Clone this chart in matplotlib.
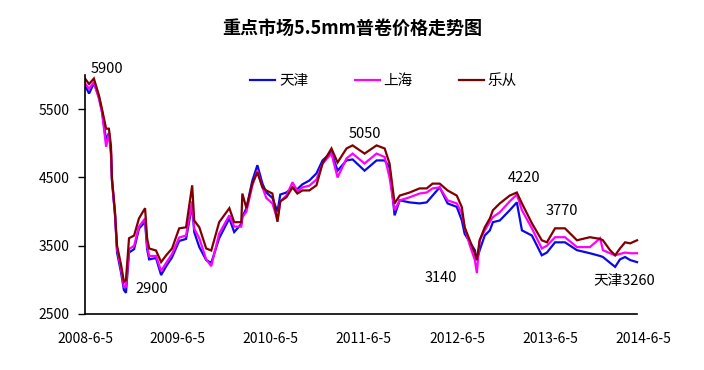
import matplotlib
matplotlib.use("Agg")
import matplotlib.pyplot as plt
import matplotlib.dates as mdates
import pandas as pd

plt.rcParams['font.family'] = ['Noto Sans CJK SC', 'DejaVu Sans']

dates = [
    "2008-06-05", "2008-06-21", "2008-07-10", "2008-07-30", "2008-08-11", "2008-08-27",
    "2008-09-07", "2008-09-15", "2008-09-19", "2008-10-01", "2008-10-09", "2008-10-25",
    "2008-11-05", "2008-11-13", "2008-11-25", "2008-12-15", "2009-01-03", "2009-01-27",
    "2009-02-04", "2009-02-12", "2009-03-11", "2009-03-31", "2009-04-20", "2009-05-13",
    "2009-06-10", "2009-07-07", "2009-07-31", "2009-08-08", "2009-08-28", "2009-09-24",
    "2009-10-14", "2009-11-14", "2009-12-24", "2010-01-12", "2010-02-09", "2010-02-13",
    "2010-03-01", "2010-03-24", "2010-04-13", "2010-05-03", "2010-05-18", "2010-06-11",
    "2010-07-01", "2010-07-12", "2010-08-05", "2010-08-29", "2010-09-17", "2010-10-07",
    "2010-11-03", "2010-12-01", "2010-12-25", "2011-01-29", "2011-02-22", "2011-03-29",
    "2011-04-22", "2011-06-08", "2011-07-25", "2011-08-26", "2011-09-14", "2011-10-04",
    "2011-10-24", "2011-12-02", "2012-01-10", "2012-02-07", "2012-03-01", "2012-03-29",
    "2012-04-29", "2012-06-04", "2012-06-24", "2012-07-05", "2012-07-25", "2012-08-14",
    "2012-08-22", "2012-09-02", "2012-09-22", "2012-10-12", "2012-10-24", "2012-11-20",
    "2012-12-29", "2013-01-26", "2013-02-15", "2013-03-26", "2013-05-04", "2013-05-24",
    "2013-06-25", "2013-08-03", "2013-09-19", "2013-11-09", "2013-12-19", "2013-12-30",
    "2014-01-27", "2014-02-16", "2014-03-07", "2014-03-27", "2014-04-16", "2014-05-13",
]

lecong = [
    5950, 5870, 5950, 5700, 5500, 5215, 5215, 4970, 4485, 3990, 3500, 3215,
    2970, 3000, 3610, 3650, 3900, 4050, 3610, 3460, 3430, 3260, 3360, 3460,
    3755, 3770, 4385, 3870, 3770, 3460, 3430, 3845, 4050, 3845, 3845, 4265,
    4050, 4410, 4575, 4355, 4310, 4265, 3850, 4150, 4210, 4355, 4265, 4310,
    4310, 4385, 4705, 4925, 4720, 4925, 4970, 4850, 4970, 4925, 4705, 4120,
    4235, 4280, 4340, 4340, 4410, 4410, 4310, 4235, 4065, 3770, 3580, 3390,
    3290, 3580, 3770, 3900, 4020, 4120, 4235, 4280, 4120, 3830, 3580, 3550,
    3755, 3755, 3580, 3625, 3600, 3580, 3435, 3360, 3460, 3550, 3535, 3580,
]

shanghai = [
    5880, 5800, 5900, 5650, 5450, 4950, 5150, 4900, 4480, 3950, 3450, 3150,
    2900, 2900, 3450, 3500, 3780, 3900, 3500, 3350, 3350, 3130, 3250, 3380,
    3620, 3650, 4150, 3750, 3610, 3300, 3200, 3680, 3945, 3780, 3780, 3920,
    4000, 4380, 4600, 4355, 4200, 4120, 3880, 4150, 4235, 4430, 4300, 4355,
    4380, 4470, 4705, 4850, 4500, 4780, 4850, 4705, 4850, 4800, 4500, 4020,
    4165, 4210, 4265, 4280, 4340, 4355, 4165, 4120, 3975, 3770, 3510, 3290,
    3100, 3580, 3725, 3850, 3920, 3990, 4150, 4250, 4020, 3755, 3460, 3500,
    3625, 3625, 3480, 3480, 3610, 3435, 3390, 3360, 3380, 3400, 3390, 3390,
]

tianjin = [
    5850, 5730, 5880, 5680, 5470, 5050, 5150, 4850, 4450, 3950, 3400, 3100,
    2850, 2810, 3400, 3450, 3750, 3850, 3450, 3300, 3320, 3070, 3200, 3330,
    3570, 3600, 4100, 3700, 3480, 3290, 3250, 3610, 3900, 3700, 3820, 3920,
    4050, 4450, 4680, 4410, 4280, 4200, 4000, 4250, 4280, 4355, 4330, 4400,
    4455, 4560, 4750, 4870, 4600, 4750, 4765, 4600, 4750, 4750, 4650, 3945,
    4165, 4135, 4120, 4135, 4235, 4355, 4120, 4070, 3870, 3675, 3555, 3435,
    3290, 3435, 3650, 3725, 3845, 3870, 4020, 4135, 3725, 3650, 3360, 3400,
    3550, 3550, 3435, 3390, 3350, 3335, 3250, 3190, 3300, 3335, 3290, 3260,
]

series_names = ["天津", "上海", "乐从"]
series_colors = ["#0a0ae6", "#ff00ff", "#800000"]

xtick_labels = ["2008-6-5", "2009-6-5", "2010-6-5", "2011-6-5",
                "2012-6-5", "2013-6-5", "2014-6-5"]
yticks = [2500, 3500, 4500, 5500]

annot_text = ["5900", "2900", "5050", "3140", "4220", "3770", "天津3260"]
annot_date = ["2008-06-29", "2008-12-19", "2011-04-06", "2012-01-30",
              "2012-12-22", "2013-05-20", "2013-11-21"]
annot_val = [6092, 2865, 5143, 3026, 4486, 4004, 2982]

title = "重点市场5.5mm普卷价格走势图"

x = pd.to_datetime(dates)
xt = pd.to_datetime(["2008-06-05", "2009-06-05", "2010-06-05", "2011-06-05",
                     "2012-06-05", "2013-06-05", "2014-06-05"])

fig = plt.figure(figsize=(7.04, 3.70), dpi=100)
ax = fig.add_axes([0.1207, 0.1514, 0.7925, 0.6456])

for vals, name, col in zip([tianjin, shanghai, lecong], series_names, series_colors):
    ax.plot(x, vals, color=col, lw=1.6, label=name, solid_joinstyle='miter')

ax.set_ylim(2500, 6000)
ax.set_xlim(xt[0], xt[-1])
ax.set_yticks(yticks)
ax.set_yticklabels([str(v) for v in yticks])
ax.set_xticks(xt)
ax.set_xticklabels(xtick_labels)
ax.tick_params(axis='y', direction='out', length=5, width=1, pad=6, labelsize=10)
ax.tick_params(axis='x', length=0, pad=13, labelsize=10)
for s in ['top', 'right']:
    ax.spines[s].set_visible(False)
for s in ['left', 'bottom']:
    ax.spines[s].set_linewidth(1.2)
    ax.spines[s].set_color('black')
ax.spines['bottom'].set_bounds(mdates.date2num(xt[0]), mdates.date2num(x[-1]))

for t, d, v in zip(annot_text, annot_date, annot_val):
    ax.text(pd.Timestamp(d), v, t, ha='left', va='center', fontsize=10.5,
            clip_on=False)

fig.text(0.5, 1 - 28 / 370, title, ha='center', va='center', fontsize=13,
         fontweight='bold')

handles, labels = ax.get_legend_handles_labels()
fig.legend(handles, labels, loc='center', bbox_to_anchor=(0.545, 1 - 81 / 370),
           ncol=3, frameon=False, fontsize=10.5, handlelength=1.7,
           handletextpad=0.25, columnspacing=3.2)

fig.savefig("out.png", dpi=100)
